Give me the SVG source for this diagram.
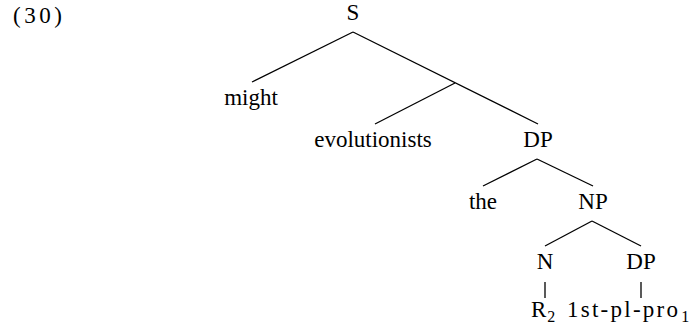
<svg xmlns="http://www.w3.org/2000/svg" width="691" height="334" viewBox="0 0 691 334">
<style>
text{font-family:"Liberation Serif","Times New Roman",serif;font-size:23px;fill:#000}
.c{text-anchor:middle}
.sub{font-size:16px}
line{stroke:#000;stroke-width:1.3;fill:none}
</style>
<rect width="691" height="334" fill="#fff"/>
<text id="label" x="13" y="23" textLength="49" lengthAdjust="spacing">(30)</text>
<g id="connectors">
<line x1="353" y1="32" x2="252" y2="82"/>
<line x1="353" y1="32" x2="538" y2="124"/>
<line x1="455" y1="83" x2="375" y2="124"/>
<line x1="537" y1="159" x2="483" y2="186"/>
<line x1="537" y1="159" x2="593" y2="186"/>
<line x1="592" y1="221" x2="545" y2="246"/>
<line x1="592" y1="221" x2="641" y2="246"/>
<line x1="545" y1="282" x2="545" y2="298"/>
<line x1="641" y1="282" x2="641" y2="298"/>
</g>
<g id="n-S"><text class="c" x="353" y="20">S</text></g>
<g id="n-might"><text class="c" x="251" y="105">might</text></g>
<g id="n-evolutionists"><text class="c" x="373" y="147">evolutionists</text></g>
<g id="n-DP1"><text class="c" x="538" y="147">DP</text></g>
<g id="n-the"><text class="c" x="483" y="209">the</text></g>
<g id="n-NP"><text class="c" x="593" y="209">NP</text></g>
<g id="n-N"><text class="c" x="545" y="269">N</text></g>
<g id="n-DP2"><text class="c" x="641" y="269">DP</text></g>
<g id="n-R2"><text x="531" y="317">R<tspan class="sub" dx="1" dy="5">2</tspan></text></g>
<g id="n-pro"><text x="567" y="317"><tspan textLength="111" lengthAdjust="spacing">1st-pl-pro</tspan><tspan class="sub" dx="1" dy="5">1</tspan></text></g>
</svg>
